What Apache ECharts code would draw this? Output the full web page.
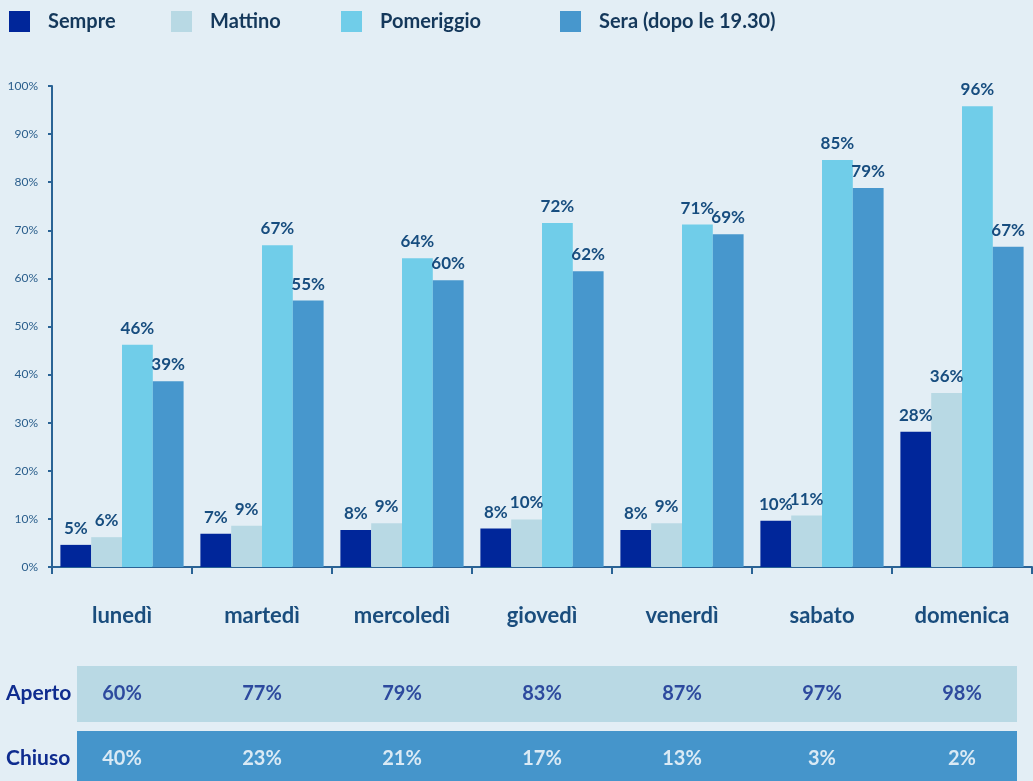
<!DOCTYPE html>
<html>
<head>
<meta charset="utf-8">
<script src="https://cdn.jsdelivr.net/npm/echarts@6/dist/echarts.min.js"></script>
<style>
  html, body { margin: 0; padding: 0; background: #e3eef5; }
  #chart { width: 1033px; height: 781px; }
</style>
</head>
<body>
<div id="chart"></div>
<script>
// giorni della settimana
var days = ['lunedì', 'martedì', 'mercoledì', 'giovedì', 'venerdì', 'sabato', 'domenica'];
var seriesNames = ['Sempre', 'Mattino', 'Pomeriggio', 'Sera (dopo le 19.30)'];

// valori in percentuale
var sempre     = [4.6, 6.9, 7.7, 8.0, 7.7, 9.6, 28.1];
var mattino    = [6.2, 8.6, 9.1, 9.9, 9.1, 10.7, 36.2];
var pomeriggio = [46.2, 66.9, 64.2, 71.5, 71.2, 84.6, 95.8];
var sera       = [38.6, 55.4, 59.6, 61.5, 69.2, 78.8, 66.6];

// tabella aperto / chiuso
var aperto = [60, 77, 79, 83, 87, 97, 98];
var chiuso = [40, 23, 21, 17, 13, 3, 2];

var yTicks = [0, 10, 20, 30, 40, 50, 60, 70, 80, 90, 100];

var colors = ['#00269a', '#b8d9e4', '#70cde9', '#4797cd'];
var axisColor = '#2a6395';
var font = 'Lato';

var myChart = echarts.init(document.getElementById('chart'));

var barLabel = {
  show: true,
  position: 'top',
  distance: 8,
  fontFamily: font,
  fontWeight: 'bold',
  fontSize: 17,
  color: '#174d7f',
  formatter: function (p) { return Math.round(p.value) + '%'; }
};

function legendAt(name, left) {
  return {
    data: [name],
    left: left,
    top: 11,
    padding: 0,
    itemWidth: 21,
    itemHeight: 21,
    icon: 'rect',
    selectedMode: false,
    textStyle: {
      fontFamily: font,
      fontWeight: 'bold',
      fontSize: 20,
      color: '#14385b',
      padding: [0, 0, 0, 13]
    }
  };
}

var allValues = [sempre, mattino, pomeriggio, sera];

myChart.setOption({
  backgroundColor: '#e3eef5',
  color: colors,
  animation: false,
  legend: [
    legendAt(seriesNames[0], 9),
    legendAt(seriesNames[1], 171),
    legendAt(seriesNames[2], 341),
    legendAt(seriesNames[3], 560)
  ],
  graphic: [
    { type: 'rect', z: -10, shape: { x: 77, y: 666, width: 940, height: 56 }, style: { fill: '#b9d9e4' } },
    { type: 'rect', z: -10, shape: { x: 77, y: 731, width: 940, height: 60 }, style: { fill: '#4595cb' } }
  ],
  grid: [
    { left: 52, right: 1, top: 86, height: 481, outerBoundsMode: 'none' },
    { left: 52, right: 1, top: 661, height: 130, outerBoundsMode: 'none' }
  ],
  xAxis: [
    {
      type: 'category',
      gridIndex: 0,
      data: days,
      axisLine: { lineStyle: { color: axisColor, width: 2 } },
      axisTick: { show: true, length: 7, lineStyle: { color: axisColor, width: 2 } },
      axisLabel: {
        margin: 38,
        fontFamily: font,
        fontWeight: 'bold',
        fontSize: 22,
        color: '#1a4d7d'
      }
    },
    {
      type: 'category',
      gridIndex: 1,
      data: days,
      show: false
    }
  ],
  yAxis: [
    {
      type: 'value',
      gridIndex: 0,
      min: 0,
      max: 100,
      interval: 10,
      splitLine: { show: false },
      axisLine: { show: true, lineStyle: { color: axisColor, width: 2 } },
      axisTick: { show: true, length: 4, lineStyle: { color: axisColor, width: 2 } },
      axisLabel: {
        margin: 14,
        fontFamily: font,
        fontSize: 12,
        color: '#2a5e8c',
        formatter: function (v) { return yTicks.indexOf(v) >= 0 ? v + '%' : ''; }
      }
    },
    {
      type: 'category',
      gridIndex: 1,
      data: ['Chiuso', 'Aperto'],
      axisLine: { show: false },
      axisTick: { show: false },
      axisLabel: {
        align: 'left',
        margin: 46,
        fontFamily: font,
        fontWeight: 'bold',
        fontSize: 21,
        color: '#0f2c8f'
      }
    }
  ],
  series: seriesNames.map(function (name, i) {
    return {
      name: name,
      type: 'bar',
      xAxisIndex: 0,
      yAxisIndex: 0,
      barGap: 0,
      barCategoryGap: '12%',
      label: barLabel,
      data: allValues[i]
    };
  }).concat([
    {
      name: 'Aperto',
      type: 'scatter',
      xAxisIndex: 1,
      yAxisIndex: 1,
      symbolSize: 0,
      silent: true,
      label: {
        show: true, position: 'inside',
        fontFamily: font, fontWeight: 'bold', fontSize: 20, color: '#0a268c',
        formatter: function (p) { return p.value[2] + '%'; }
      },
      data: aperto.map(function (v, i) { return [i, 'Aperto', v]; })
    },
    {
      name: 'Chiuso',
      type: 'scatter',
      xAxisIndex: 1,
      yAxisIndex: 1,
      symbolSize: 0,
      silent: true,
      label: {
        show: true, position: 'inside',
        fontFamily: font, fontWeight: 'bold', fontSize: 20, color: '#ffffff',
        formatter: function (p) { return p.value[2] + '%'; }
      },
      data: chiuso.map(function (v, i) { return [i, 'Chiuso', v]; })
    }
  ])
});
</script>
</body>
</html>
